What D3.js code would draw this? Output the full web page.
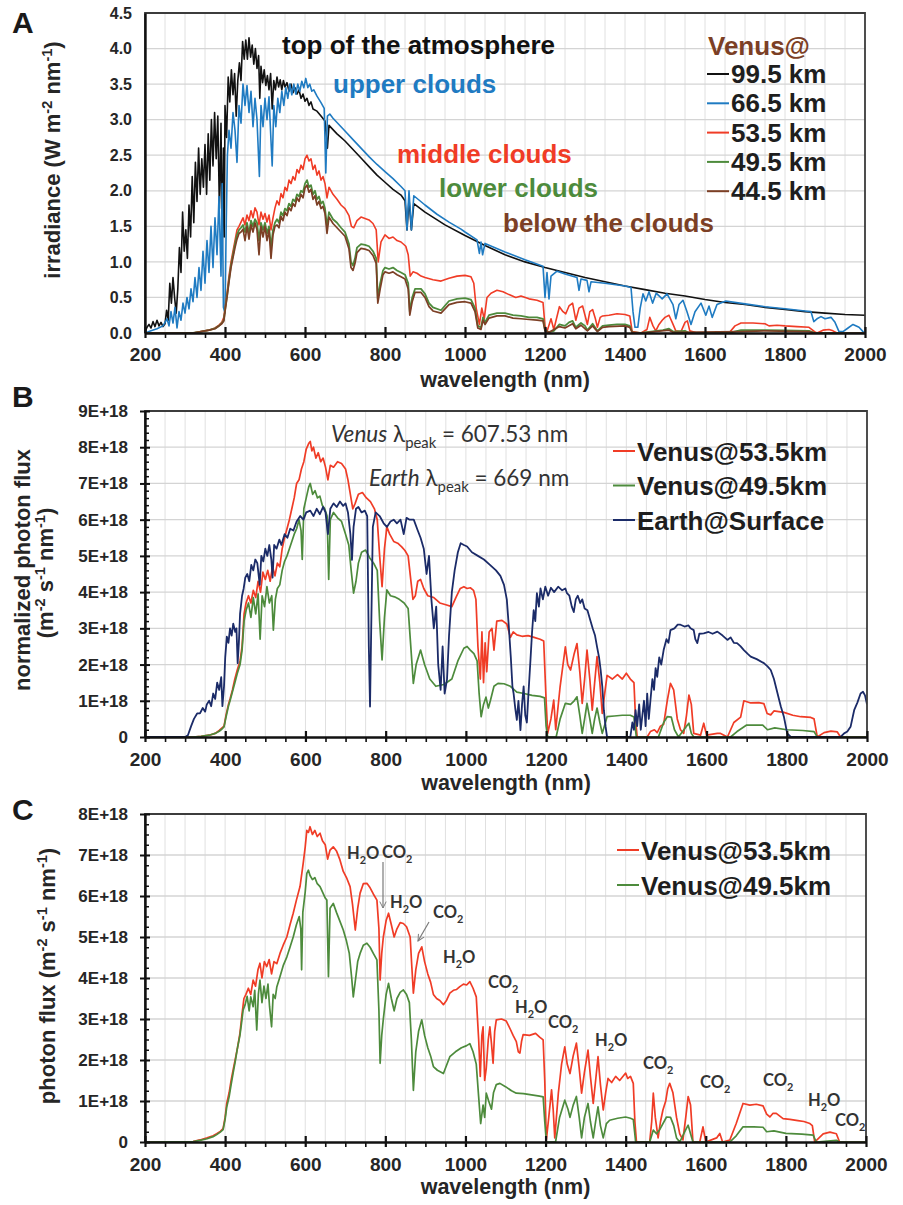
<!DOCTYPE html>
<html><head><meta charset="utf-8">
<script src="https://cdn.jsdelivr.net/npm/d3@7"></script>
<style>body{margin:0;background:#fff}svg{display:block}</style>
</head><body>
<script>
// ---------------- DATA ----------------
const xTicks=[200,400,600,800,1000,1200,1400,1600,1800,2000];
const xMinor=[250,300,350,450,500,550,650,700,750,850,900,950,1050,1100,1150,1250,1300,1350,1450,1500,1550,1650,1700,1750,1850,1900,1950];
const yTicksA=[0,0.5,1,1.5,2,2.5,3,3.5,4,4.5];
const yTicksB=[0,1,2,3,4,5,6,7,8,9];
const yTicksC=[0,1,2,3,4,5,6,7,8];

// Panel A : irradiance (W m-2 nm-1)
const toaA=[[200,0.02],[205,0.08],[210,0.12],[215,0.07],[220,0.16],[225,0.09],[230,0.18],[235,0.1],[240,0.15],[245,0.09],[250,0.13],[254,0.32],[258,0.18],[262,0.7],[266,0.42],[270,0.78],[274,0.5],[278,0.28],[282,0.62],[286,1.2],[290,0.85],[294,1.7],[298,1.15],[302,1.45],[306,1.05],[310,1.8],[314,1.35],[318,2.2],[322,1.55],[326,2.4],[330,1.85],[334,2.6],[338,1.95],[342,2.45],[346,2.05],[350,2.65],[354,1.95],[358,2.8],[362,2.15],[366,3.0],[370,2.35],[374,3.1],[378,2.45],[382,3.05],[386,1.75],[390,2.95],[393,1.15],[396,2.6],[398,1.35],[400,3.2],[404,2.75],[408,3.6],[412,3.25],[416,3.7],[420,3.35],[424,3.65],[428,3.05],[432,3.55],[436,3.8],[440,3.55],[444,4.1],[448,3.85],[452,4.12],[456,3.85],[460,4.15],[464,3.88],[468,4.05],[472,3.78],[476,4.0],[480,3.72],[484,3.9],[487,3.3],[490,3.75],[494,3.52],[498,3.7],[502,3.48],[506,3.62],[510,3.42],[514,3.65],[518,3.15],[522,3.55],[526,3.42],[530,3.6],[534,3.46],[538,3.56],[542,3.42],[546,3.55],[550,3.46],[555,3.52],[560,3.4],[565,3.5],[570,3.38],[575,3.45],[580,3.36],[585,3.42],[590,3.3],[595,3.36],[600,3.26],[605,3.3],[610,3.2],[615,3.25],[620,3.15],[630,3.12],[640,3.05],[650,2.98],[656,2.6],[660,2.92],[670,2.86],[680,2.8],[690,2.75],[700,2.7],[720,2.58],[740,2.46],[760,2.34],[780,2.22],[800,2.12],[820,2.02],[840,1.94],[850,1.86],[855,1.45],[860,1.88],[866,1.45],[872,1.82],[900,1.7],[950,1.52],[1000,1.37],[1050,1.23],[1100,1.1],[1150,1.0],[1200,0.92],[1250,0.85],[1300,0.78],[1350,0.72],[1400,0.66],[1450,0.61],[1500,0.56],[1550,0.52],[1600,0.47],[1650,0.43],[1700,0.4],[1750,0.36],[1800,0.33],[1850,0.3],[1900,0.28],[1950,0.26],[2000,0.25]];
const upperA=[[200,0.0],[215,0.03],[230,0.06],[245,0.1],[255,0.2],[260,0.1],[265,0.3],[270,0.14],[275,0.36],[280,0.07],[285,0.3],[290,0.18],[295,0.42],[300,0.28],[305,0.5],[310,0.34],[315,0.62],[320,0.44],[325,0.78],[330,0.5],[335,0.92],[340,0.6],[345,1.15],[350,0.7],[355,1.3],[360,0.85],[365,1.5],[370,0.92],[375,1.62],[380,1.1],[385,1.92],[390,0.8],[393,2.1],[396,0.36],[400,0.28],[403,1.5],[406,2.5],[410,2.85],[415,2.6],[420,3.1],[425,2.85],[430,2.4],[435,3.2],[440,2.95],[445,3.5],[450,3.2],[455,3.48],[460,3.1],[465,3.4],[470,2.9],[475,3.3],[480,3.0],[486,2.2],[490,3.2],[495,2.9],[500,3.3],[505,3.0],[510,3.32],[515,2.7],[518,2.35],[522,3.2],[527,2.9],[532,3.3],[537,3.1],[542,3.4],[547,3.2],[552,3.45],[557,3.3],[562,3.5],[567,3.35],[572,3.5],[577,3.36],[582,3.5],[587,3.4],[592,3.54],[597,3.45],[602,3.58],[607,3.45],[612,3.5],[617,3.4],[622,3.42],[630,3.33],[640,3.24],[648,3.16],[652,2.25],[656,3.05],[662,3.08],[670,3.02],[680,2.96],[690,2.9],[700,2.84],[720,2.72],[740,2.6],[760,2.48],[780,2.37],[800,2.27],[820,2.17],[840,2.06],[850,2.0],[855,1.45],[860,2.0],[866,1.45],[872,1.93],[900,1.8],[930,1.67],[960,1.56],[990,1.46],[1000,1.42],[1030,1.31],[1036,1.12],[1040,1.28],[1044,1.1],[1050,1.26],[1100,1.14],[1150,1.03],[1195,0.94],[1200,0.5],[1205,0.85],[1210,0.48],[1215,0.8],[1230,0.87],[1250,0.83],[1280,0.78],[1285,0.6],[1290,0.76],[1305,0.74],[1310,0.58],[1315,0.72],[1350,0.7],[1400,0.66],[1415,0.64],[1420,0.3],[1425,0.08],[1432,0.08],[1438,0.35],[1445,0.55],[1452,0.45],[1460,0.58],[1469,0.42],[1478,0.56],[1493,0.48],[1505,0.55],[1520,0.4],[1527,0.2],[1535,0.4],[1545,0.46],[1555,0.3],[1565,0.12],[1575,0.3],[1590,0.42],[1602,0.25],[1610,0.38],[1618,0.22],[1630,0.4],[1652,0.45],[1700,0.41],[1750,0.37],[1800,0.34],[1850,0.31],[1865,0.3],[1872,0.16],[1880,0.2],[1890,0.23],[1900,0.2],[1915,0.22],[1925,0.15],[1935,0.02],[1945,0.02],[1955,0.06],[1970,0.12],[1985,0.08],[1995,0.02],[2000,0.0]];
const middleA=[[200,0],[320,0],[340,0.02],[360,0.04],[375,0.07],[385,0.11],[392,0.15],[397,0.22],[400,0.34],[405,0.55],[410,0.8],[415,1.0],[420,1.15],[425,1.3],[430,1.45],[435,1.5],[440,1.56],[445,1.62],[450,1.52],[455,1.66],[460,1.58],[465,1.72],[470,1.62],[475,1.76],[480,1.7],[485,1.52],[490,1.7],[495,1.6],[500,1.68],[505,1.56],[510,1.66],[515,1.45],[520,1.62],[525,1.76],[530,1.86],[535,1.8],[540,1.96],[545,1.9],[550,2.05],[555,2.0],[560,2.15],[565,2.1],[570,2.2],[575,2.15],[580,2.3],[585,2.25],[590,2.36],[595,2.3],[600,2.45],[605,2.5],[610,2.42],[615,2.45],[620,2.3],[625,2.36],[630,2.22],[635,2.28],[640,2.15],[645,2.2],[650,2.1],[655,1.9],[660,2.05],[670,1.95],[680,1.88],[690,1.8],[700,1.75],[710,1.65],[716,1.5],[722,1.48],[730,1.58],[740,1.63],[750,1.61],[760,1.59],[770,1.54],[778,1.45],[783,1.0],[790,1.28],[800,1.38],[810,1.33],[820,1.35],[830,1.3],[840,1.28],[852,1.22],[858,1.1],[863,0.8],[870,0.86],[880,0.84],[890,0.8],[900,0.78],[920,0.75],[940,0.73],[960,0.77],[980,0.8],[1000,0.81],[1015,0.79],[1022,0.7],[1028,0.35],[1036,0.12],[1042,0.35],[1048,0.2],[1055,0.5],[1065,0.56],[1080,0.6],[1095,0.58],[1110,0.54],[1127,0.5],[1140,0.52],[1160,0.48],[1180,0.46],[1195,0.43],[1200,0.1],[1205,0.02],[1215,0.2],[1222,0.05],[1236,0.37],[1245,0.3],[1252,0.27],[1260,0.38],[1269,0.42],[1277,0.18],[1285,0.35],[1294,0.38],[1300,0.25],[1306,0.12],[1312,0.3],[1319,0.33],[1326,0.2],[1331,0.08],[1338,0.22],[1344,0.24],[1360,0.25],[1380,0.27],[1400,0.26],[1412,0.24],[1418,0.02],[1440,0],[1455,0.05],[1462,0.22],[1470,0.1],[1477,0.03],[1485,0.12],[1493,0.18],[1500,0.22],[1510,0.25],[1518,0.15],[1527,0.03],[1540,0.02],[1550,0.15],[1556,0.17],[1562,0.03],[1580,0],[1660,0],[1675,0.1],[1690,0.14],[1720,0.14],[1750,0.13],[1760,0.1],[1780,0.11],[1800,0.1],[1830,0.09],[1860,0.08],[1874,0.02],[1880,0],[1895,0.04],[1910,0.05],[1920,0.03],[1930,0],[2000,0]];
const lowerA=[[200,0],[320,0],[340,0.02],[360,0.04],[375,0.065],[385,0.1],[392,0.14],[397,0.18],[400,0.32],[405,0.52],[410,0.75],[415,0.95],[420,1.1],[425,1.25],[430,1.38],[435,1.45],[440,1.48],[445,1.52],[450,1.42],[455,1.55],[460,1.4],[465,1.58],[470,1.5],[475,1.6],[480,1.55],[485,1.3],[490,1.55],[495,1.45],[500,1.55],[505,1.4],[510,1.5],[515,1.2],[520,1.45],[525,1.55],[530,1.6],[535,1.55],[540,1.7],[545,1.65],[550,1.75],[555,1.72],[560,1.82],[565,1.78],[570,1.88],[575,1.85],[580,1.95],[585,1.92],[590,2.0],[595,1.98],[600,2.1],[605,2.15],[610,2.05],[615,2.08],[620,1.95],[625,2.0],[630,1.88],[635,1.92],[640,1.82],[645,1.85],[650,1.75],[655,1.5],[660,1.7],[670,1.6],[680,1.55],[690,1.48],[700,1.42],[710,1.25],[715,1.0],[720,0.95],[725,1.05],[730,1.2],[740,1.25],[750,1.24],[760,1.22],[770,1.15],[778,1.05],[782,0.48],[788,0.7],[795,0.88],[800,0.92],[810,0.9],[820,0.92],[830,0.88],[840,0.85],[850,0.82],[858,0.7],[862,0.3],[868,0.5],[875,0.62],[890,0.62],[900,0.55],[910,0.42],[920,0.36],[940,0.32],[960,0.45],[980,0.48],[1000,0.49],[1015,0.47],[1025,0.35],[1032,0.1],[1040,0.08],[1045,0.22],[1050,0.15],[1060,0.25],[1080,0.28],[1100,0.28],[1120,0.25],[1140,0.24],[1160,0.22],[1180,0.22],[1195,0.2],[1200,0.04],[1210,0.01],[1222,0.03],[1236,0.12],[1250,0.1],[1260,0.15],[1269,0.17],[1277,0.08],[1290,0.14],[1300,0.1],[1306,0.04],[1319,0.13],[1331,0.03],[1344,0.1],[1360,0.11],[1380,0.12],[1400,0.12],[1412,0.1],[1418,0.01],[1440,0],[1495,0.04],[1510,0.06],[1520,0.02],[1550,0.03],[1560,0],[1660,0],[1690,0.04],[1750,0.04],[1800,0.035],[1860,0.03],[1875,0],[2000,0]];
const belowA=[[200,0],[320,0],[340,0.02],[360,0.04],[375,0.06],[385,0.1],[392,0.13],[397,0.17],[400,0.3],[405,0.5],[410,0.72],[415,0.92],[420,1.06],[425,1.2],[430,1.32],[435,1.4],[440,1.42],[445,1.46],[450,1.3],[455,1.5],[460,1.32],[465,1.52],[470,1.42],[475,1.55],[480,1.45],[485,1.1],[490,1.5],[495,1.35],[500,1.5],[505,1.3],[510,1.45],[515,1.05],[520,1.38],[525,1.5],[530,1.52],[535,1.48],[540,1.64],[545,1.58],[550,1.7],[555,1.65],[560,1.76],[565,1.72],[570,1.82],[575,1.78],[580,1.9],[585,1.85],[590,1.95],[595,1.9],[600,2.04],[605,2.08],[610,1.98],[615,2.02],[620,1.88],[625,1.93],[630,1.8],[635,1.85],[640,1.75],[645,1.78],[650,1.68],[655,1.4],[660,1.63],[670,1.54],[680,1.48],[690,1.42],[700,1.36],[710,1.18],[715,0.92],[720,0.88],[725,0.98],[730,1.13],[740,1.19],[750,1.18],[760,1.16],[770,1.09],[778,0.98],[782,0.42],[788,0.62],[795,0.82],[800,0.86],[810,0.84],[820,0.86],[830,0.82],[840,0.79],[850,0.76],[858,0.62],[862,0.25],[868,0.44],[875,0.57],[890,0.57],[900,0.5],[910,0.37],[920,0.31],[940,0.28],[960,0.4],[980,0.43],[1000,0.44],[1015,0.42],[1025,0.3],[1032,0.07],[1040,0.05],[1045,0.18],[1050,0.12],[1060,0.21],[1080,0.24],[1100,0.24],[1120,0.21],[1140,0.2],[1160,0.19],[1180,0.18],[1195,0.17],[1200,0.03],[1210,0.01],[1236,0.09],[1250,0.07],[1269,0.13],[1277,0.06],[1290,0.11],[1306,0.03],[1319,0.1],[1331,0.02],[1344,0.08],[1360,0.09],[1400,0.1],[1412,0.08],[1418,0.01],[1440,0],[1510,0.04],[1520,0.01],[1690,0.02],[1750,0.03],[1860,0.02],[1875,0],[2000,0]];

// Panel B : normalized photon flux (units of 1E+18 m-2 s-1 nm-1)
const venus535B=[[200,0],[320,0],[340,0.02],[360,0.05],[375,0.1],[385,0.18],[392,0.25],[397,0.3],[402,0.6],[408,0.9],[412,1.05],[418,1.3],[424,1.6],[430,1.85],[437,2.1],[442,2.5],[447,3.4],[452,3.7],[458,3.9],[464,3.7],[470,4.05],[476,3.85],[482,4.3],[488,4.0],[494,4.55],[500,4.35],[506,4.6],[512,4.3],[518,4.7],[524,4.45],[530,4.8],[536,4.7],[542,5.2],[548,5.5],[554,5.75],[560,6.0],[566,6.3],[572,6.6],[578,7.0],[584,7.1],[590,7.4],[596,7.6],[602,7.95],[608,8.1],[612,8.16],[616,7.9],[620,8.0],[626,7.7],[632,7.85],[638,7.6],[644,7.7],[650,7.45],[656,7.1],[662,7.5],[670,7.45],[680,7.6],[690,7.55],[700,7.4],[706,7.1],[712,6.7],[718,6.3],[724,6.45],[732,6.7],[742,6.75],[752,6.6],[762,6.5],[772,6.3],[779,6.0],[785,5.0],[791,4.15],[797,5.2],[803,5.8],[810,5.6],[820,5.4],[830,5.35],[840,5.25],[848,5.15],[856,5.0],[862,4.4],[868,3.8],[874,3.9],[880,4.3],[887,4.35],[895,4.1],[905,3.9],[920,3.85],[935,3.7],[950,3.65],[965,3.6],[975,3.85],[986,4.1],[995,4.15],[1003,4.1],[1011,4.12],[1019,4.05],[1025,3.8],[1030,2.5],[1036,1.6],[1040,2.9],[1044,1.5],[1048,2.6],[1052,1.8],[1058,2.9],[1065,3.0],[1070,2.4],[1077,3.2],[1090,3.22],[1102,3.12],[1111,2.75],[1118,2.9],[1127,2.82],[1140,2.78],[1155,2.8],[1170,2.75],[1185,2.7],[1194,2.65],[1200,1.0],[1204,0.1],[1212,0.5],[1219,1.02],[1224,0.2],[1235,1.4],[1248,2.49],[1254,2.0],[1261,1.85],[1270,2.3],[1277,2.58],[1284,1.8],[1290,0.93],[1296,1.6],[1302,2.4],[1309,1.6],[1315,0.74],[1321,1.5],[1327,2.22],[1334,1.5],[1340,0.65],[1346,1.2],[1352,1.7],[1365,1.6],[1378,1.72],[1390,1.6],[1400,1.76],[1410,1.6],[1419,1.5],[1423,0.5],[1427,0],[1452,0],[1460,0.15],[1470,0.2],[1477,0.12],[1485,0.3],[1493,0.35],[1502,1.0],[1510,1.48],[1518,1.3],[1527,0.5],[1535,0.2],[1543,0.1],[1550,0.6],[1556,1.16],[1562,0.9],[1568,0.1],[1585,0.05],[1593,0.38],[1600,0.05],[1627,0.1],[1635,0.1],[1652,0],[1668,0.4],[1685,0.55],[1693,1.0],[1710,0.94],[1730,0.95],[1743,0.92],[1751,0.65],[1760,0.61],[1768,0.72],[1780,0.7],[1793,0.68],[1815,0.6],[1835,0.56],[1860,0.54],[1868,0.5],[1876,0],[1893,0.12],[1910,0.16],[1926,0.14],[1934,0],[2000,0]];
const venus495B=[[200,0],[320,0],[340,0.02],[360,0.05],[375,0.1],[385,0.16],[392,0.22],[397,0.28],[402,0.55],[408,0.85],[412,1.0],[418,1.25],[424,1.5],[430,1.75],[437,2.0],[442,2.4],[447,3.2],[452,3.5],[458,3.7],[464,3.3],[470,3.85],[476,3.4],[482,3.95],[487,2.7],[492,3.9],[498,3.6],[504,4.15],[510,3.7],[516,3.9],[520,2.95],[525,3.8],[530,4.1],[536,4.2],[542,4.6],[548,4.85],[554,5.0],[560,5.2],[566,5.4],[572,5.6],[578,5.75],[584,6.0],[589,5.7],[592,4.9],[596,6.3],[602,6.6],[608,6.9],[612,7.0],[618,6.7],[624,6.8],[630,6.6],[636,6.65],[642,6.4],[648,6.3],[654,6.1],[658,4.35],[662,6.0],[670,6.2],[680,6.05],[690,5.95],[700,5.6],[708,5.3],[714,4.6],[720,3.97],[726,4.3],[732,4.8],[740,5.1],[750,5.16],[760,4.95],[770,4.8],[779,4.6],[785,3.2],[791,2.13],[797,3.3],[803,4.06],[812,3.9],[822,3.87],[834,3.8],[846,3.7],[856,3.55],[862,2.6],[869,1.48],[876,2.0],[887,2.4],[897,2.0],[910,1.6],[925,1.4],[945,1.45],[965,1.6],[980,2.1],[995,2.45],[1003,2.5],[1011,2.4],[1020,2.3],[1028,2.1],[1033,1.2],[1038,0.56],[1044,0.9],[1050,1.1],[1056,0.8],[1061,1.0],[1070,1.4],[1080,1.48],[1095,1.47],[1111,1.4],[1127,1.24],[1145,1.2],[1165,1.15],[1185,1.12],[1196,1.08],[1200,0.3],[1204,0],[1225,0],[1235,0.5],[1248,0.93],[1261,0.9],[1270,1.0],[1277,1.11],[1284,0.6],[1290,0.1],[1296,0.5],[1302,0.93],[1309,0.5],[1315,0.1],[1321,0.5],[1327,0.8],[1334,0.4],[1340,0.1],[1352,0.56],[1370,0.58],[1390,0.6],[1410,0.6],[1419,0.55],[1425,0],[1480,0],[1493,0.4],[1502,0.56],[1512,0.55],[1520,0.2],[1530,0],[1550,0.3],[1556,0.38],[1562,0.1],[1568,0],[1660,0],[1676,0.15],[1700,0.33],[1740,0.33],[1752,0.2],[1770,0.25],[1800,0.2],[1840,0.18],[1868,0.15],[1876,0],[2000,0]];
const earthB=[[200,0],[300,0],[307,0.05],[315,0.3],[322,0.5],[330,0.65],[337,0.65],[344,0.8],[350,0.7],[354,0.9],[360,1.0],[365,0.85],[370,1.2],[375,1.05],[380,1.5],[385,1.3],[390,1.65],[393,0.85],[397,1.4],[400,2.2],[404,2.77],[408,2.6],[412,3.0],[416,2.8],[420,3.13],[425,2.9],[428,3.0],[431,2.04],[434,2.6],[437,3.4],[442,3.9],[446,4.1],[450,4.4],[455,4.5],[460,4.3],[465,4.75],[470,4.6],[475,4.9],[480,4.8],[486,4.2],[490,5.0],[495,4.85],[500,5.2],[505,5.0],[510,5.3],[515,4.9],[518,4.4],[522,5.3],[528,5.2],[535,5.45],[540,5.3],[548,5.6],[555,5.5],[562,5.75],[570,5.7],[578,5.95],[587,6.1],[595,6.0],[602,6.2],[612,6.25],[620,6.1],[628,6.3],[636,6.15],[644,6.35],[650,6.2],[656,5.6],[662,6.3],[670,6.45],[678,6.35],[686,6.5],[694,6.38],[700,6.45],[706,6.2],[712,5.6],[716,4.89],[720,5.8],[726,6.3],[732,6.35],[740,6.2],[748,6.25],[754,6.1],[758,2.5],[761,0.84],[764,3.0],[768,5.8],[775,6.2],[785,6.1],[795,5.9],[803,5.8],[812,5.95],[820,6.0],[828,5.9],[837,6.0],[845,5.6],[852,6.05],[860,6.0],[870,6.0],[880,5.7],[887,5.5],[895,5.2],[902,4.5],[908,5.0],[914,3.8],[920,3.0],[926,3.6],[931,2.0],[937,1.3],[942,2.5],[947,1.2],[953,1.6],[958,2.8],[965,4.0],[972,4.6],[980,5.1],[987,5.35],[995,5.3],[1003,5.26],[1015,5.1],[1030,5.0],[1045,4.9],[1060,4.75],[1075,4.6],[1086,4.45],[1095,4.2],[1102,3.8],[1107,3.05],[1112,2.2],[1116,1.4],[1119,1.2],[1123,0.8],[1127,0.47],[1131,1.0],[1136,0.19],[1140,0.9],[1144,1.4],[1148,0.6],[1152,0.4],[1156,1.2],[1161,2.13],[1165,2.9],[1169,3.5],[1173,3.2],[1177,3.97],[1182,3.6],[1186,4.1],[1192,3.8],[1198,4.15],[1205,3.9],[1212,4.12],[1220,4.0],[1230,4.15],[1240,4.05],[1248,4.1],[1252,3.97],[1258,3.9],[1264,3.6],[1269,3.45],[1274,3.8],[1279,3.9],[1285,3.7],[1290,3.8],[1296,3.55],[1303,3.5],[1310,3.23],[1316,3.0],[1322,2.8],[1327,2.49],[1332,2.2],[1336,1.85],[1340,1.4],[1344,0.74],[1348,0.3],[1352,0],[1410,0],[1415,0.4],[1419,0.2],[1423,0.74],[1427,0.3],[1432,0.9],[1436,0.2],[1440,0.6],[1444,1.0],[1448,0.3],[1452,1.2],[1456,0.5],[1460,1.0],[1465,1.6],[1469,1.3],[1473,1.9],[1477,1.66],[1482,2.2],[1487,2.0],[1493,2.4],[1500,2.7],[1505,2.6],[1510,2.95],[1520,3.0],[1528,3.1],[1535,3.1],[1545,3.05],[1555,3.08],[1560,3.0],[1568,2.95],[1572,2.7],[1577,2.59],[1582,2.85],[1593,2.86],[1605,2.9],[1615,2.85],[1627,2.91],[1640,2.8],[1652,2.68],[1660,2.75],[1668,2.6],[1676,2.59],[1685,2.5],[1693,2.4],[1702,2.3],[1710,2.22],[1725,2.15],[1743,2.04],[1752,1.95],[1760,1.85],[1768,1.6],[1777,1.2],[1785,0.85],[1793,0.55],[1801,0.1],[1810,0],[1934,0],[1943,0.1],[1951,0.15],[1959,0.28],[1968,0.74],[1976,0.95],[1984,1.2],[1990,1.25],[1995,1.15],[2000,0.9]];

// Panel C : photon flux (units of 1E+18 m-2 s-1 nm-1)
const venus535C=[[200,0],[320,0.01],[337,0.05],[355,0.1],[370,0.15],[379,0.2],[388,0.26],[395,0.33],[400,0.6],[404,0.94],[410,1.2],[415,1.5],[420,1.76],[425,2.0],[431,2.3],[437,2.65],[442,3.1],[447,3.5],[452,3.6],[458,3.75],[464,3.6],[470,3.95],[476,3.8],[482,4.2],[487,4.36],[492,4.0],[498,4.4],[504,4.28],[510,4.45],[516,4.1],[522,4.4],[529,4.35],[537,4.6],[545,4.8],[554,5.0],[562,5.3],[570,5.58],[578,5.9],[587,6.23],[595,6.8],[600,7.2],[604,7.6],[608,7.55],[612,7.69],[618,7.5],[624,7.6],[630,7.45],[637,7.53],[643,7.35],[650,7.25],[656,6.9],[662,7.12],[670,7.2],[678,7.1],[686,6.9],[695,6.6],[703,6.45],[712,6.23],[718,5.8],[725,5.17],[731,5.7],[737,6.07],[745,6.3],[754,6.31],[762,6.2],[770,6.05],[779,5.9],[784,5.2],[787,3.95],[791,4.6],[795,5.0],[802,5.4],[808,5.58],[815,5.3],[822,5.0],[829,5.2],[837,5.35],[845,5.33],[853,5.25],[862,5.0],[866,4.3],[870,3.63],[876,4.2],[883,4.6],[891,4.76],[898,4.4],[906,4.1],[913,3.9],[920,3.6],[928,3.5],[936,3.45],[945,3.35],[953,3.46],[961,3.63],[970,3.7],[978,3.72],[986,3.79],[995,3.85],[1003,3.83],[1011,3.91],[1019,3.75],[1027,3.54],[1033,2.5],[1037,1.6],[1041,2.6],[1044,2.81],[1048,1.5],[1052,1.8],[1057,2.5],[1061,2.81],[1065,2.4],[1069,1.92],[1073,2.7],[1077,2.98],[1090,3.0],[1102,2.95],[1112,2.75],[1119,2.6],[1127,2.45],[1132,2.2],[1136,2.17],[1140,2.45],[1144,2.62],[1160,2.6],[1175,2.65],[1186,2.55],[1194,2.49],[1198,1.5],[1202,0.05],[1208,0.6],[1215,1.27],[1219,0.8],[1223,0.1],[1232,1.2],[1240,1.9],[1248,2.32],[1254,1.9],[1261,1.67],[1269,2.1],[1277,2.41],[1284,1.8],[1290,1.19],[1297,1.7],[1306,2.24],[1312,1.6],[1319,0.94],[1325,1.5],[1331,2.08],[1337,1.4],[1344,0.78],[1350,1.2],[1356,1.55],[1365,1.45],[1375,1.6],[1385,1.5],[1395,1.62],[1400,1.68],[1405,1.55],[1412,1.6],[1419,1.43],[1423,0.5],[1427,0],[1460,0],[1465,0.5],[1469,1.19],[1474,0.6],[1481,0.1],[1487,0.5],[1493,0.78],[1500,1.0],[1505,1.3],[1510,1.43],[1518,1.2],[1527,0.6],[1535,0.2],[1543,0.05],[1550,0.6],[1556,1.11],[1562,0.9],[1568,0],[1585,0],[1593,0.37],[1600,0],[1627,0.1],[1635,0.21],[1642,0],[1660,0.05],[1676,0.45],[1693,0.94],[1710,0.9],[1726,0.92],[1743,0.88],[1752,0.68],[1760,0.61],[1768,0.7],[1776,0.7],[1793,0.57],[1810,0.55],[1830,0.52],[1845,0.5],[1860,0.45],[1866,0.4],[1872,0],[1893,0.2],[1910,0.24],[1926,0.2],[1934,0],[2000,0]];
const venus495C=[[200,0],[320,0.01],[337,0.04],[355,0.08],[370,0.13],[379,0.18],[388,0.24],[395,0.3],[400,0.55],[404,0.85],[410,1.1],[415,1.4],[420,1.68],[425,1.95],[431,2.3],[437,2.6],[441,2.9],[445,3.22],[450,3.35],[455,3.55],[460,3.2],[464,3.54],[470,3.3],[474,3.7],[479,2.73],[483,3.6],[487,3.95],[492,3.4],[497,3.8],[502,3.5],[507,3.85],[511,3.3],[516,2.81],[520,3.6],[525,3.5],[529,3.78],[536,4.0],[545,4.3],[554,4.51],[562,4.75],[570,5.0],[578,5.3],[585,5.5],[589,5.2],[591,4.2],[594,5.6],[600,6.1],[604,6.55],[608,6.63],[612,6.5],[618,6.4],[624,6.45],[630,6.3],[637,6.23],[643,6.1],[650,5.95],[654,5.9],[658,4.03],[662,5.7],[670,5.82],[678,5.6],[686,5.4],[695,5.17],[703,4.9],[710,4.6],[716,4.0],[720,3.54],[726,4.0],[731,4.4],[737,4.6],[745,4.8],[754,4.85],[762,4.75],[770,4.6],[779,4.44],[784,3.2],[787,1.92],[791,2.6],[795,3.0],[802,3.6],[808,3.87],[815,3.5],[822,3.2],[829,3.5],[837,3.65],[845,3.71],[853,3.6],[860,3.4],[865,2.5],[870,1.26],[876,2.2],[883,2.7],[891,2.98],[898,2.6],[906,2.3],[913,2.1],[920,1.84],[930,1.75],[945,1.67],[961,2.08],[975,2.2],[990,2.3],[1003,2.35],[1011,2.4],[1019,2.2],[1027,1.9],[1033,1.1],[1038,0.45],[1044,0.9],[1048,0.6],[1052,1.19],[1058,1.0],[1065,0.8],[1070,1.2],[1077,1.4],[1086,1.43],[1100,1.35],[1115,1.25],[1127,1.19],[1145,1.18],[1165,1.15],[1185,1.12],[1194,1.1],[1198,0.5],[1202,0],[1225,0],[1235,0.6],[1248,1.02],[1256,0.8],[1261,0.6],[1269,0.9],[1277,1.11],[1284,0.6],[1290,0.1],[1297,0.6],[1306,0.94],[1312,0.5],[1319,0.1],[1325,0.5],[1331,0.86],[1337,0.4],[1344,0.1],[1352,0.45],[1360,0.53],[1380,0.58],[1400,0.61],[1412,0.58],[1419,0.55],[1425,0],[1460,0],[1469,0.29],[1477,0.2],[1485,0.3],[1502,0.61],[1512,0.6],[1520,0.4],[1527,0.1],[1535,0],[1550,0.3],[1556,0.41],[1562,0.2],[1568,0],[1660,0],[1676,0.15],[1693,0.37],[1720,0.37],[1743,0.36],[1752,0.25],[1770,0.27],[1800,0.21],[1840,0.19],[1868,0.17],[1876,0],[1926,0.04],[1934,0],[2000,0]];

const legendA=["99.5 km","66.5 km","53.5 km","49.5 km","44.5 km"];
const regionLabelsA=["top of the atmosphere","upper clouds","middle clouds","lower clouds","below the clouds"];
const legendB=["Venus@53.5km","Venus@49.5km","Earth@Surface"];
const legendC=["Venus@53.5km","Venus@49.5km"];
const bandLabelsC=["H2O","CO2","H2O","CO2","H2O","CO2","H2O","CO2","H2O","CO2","CO2","CO2","H2O","CO2"];

// ---------------- STYLE ----------------
const COL={black:"#111111",blue:"#1f7bc2",red:"#f03c26",green:"#4d8b3c",brown:"#7c3f25",navy:"#1b2b68"};
const SANS="'Liberation Sans',Arial,Helvetica,sans-serif";
const HUM="Lato,'Noto Sans','Open Sans',sans-serif";

const svg=d3.select("body").append("svg").attr("width",903).attr("height",1205).style("font-family",SANS);
const defs=svg.append("defs");
defs.append("marker").attr("id","arr").attr("viewBox","0 0 10 10").attr("refX",9).attr("refY",5)
  .attr("markerWidth",8).attr("markerHeight",8).attr("orient","auto-start-reverse").attr("markerUnits","userSpaceOnUse")
  .append("path").attr("d","M1,1L9,5L1,9").attr("fill","none").attr("stroke","#7a7a7a").attr("stroke-width",1.2);

function rich(sel,parts,fs){
  let shift=0;
  parts.forEach(p=>{
    const target=p.sup?-0.38*fs:(p.sub?0.28*fs:0);
    const ts=sel.append("tspan").text(p.t);
    if(target-shift!==0) ts.attr("dy",target-shift);
    if(p.sup||p.sub) ts.attr("font-size",fs*0.66);
    if(p.it) ts.attr("font-style","italic");
    shift=target;
  });
}

function panel(o){
  const x=d3.scaleLinear().domain([200,2000]).range([o.l,o.r]);
  const y=d3.scaleLinear().domain([0,o.yMax]).range([o.b,o.t]);
  const g=svg.append("g");
  g.append("g").selectAll("line").data(xMinor.concat(xTicks.slice(1,-1))).join("line")
    .attr("x1",d=>x(d)).attr("x2",d=>x(d)).attr("y1",o.t).attr("y2",o.b).attr("stroke","#e0e0e0").attr("stroke-width",1);
  g.append("g").selectAll("line").data(o.yTicks.slice(1,-1)).join("line")
    .attr("x1",o.l).attr("x2",o.r).attr("y1",d=>y(d)).attr("y2",d=>y(d)).attr("stroke","#d4d4d4").attr("stroke-width",1.3);
  defs.append("clipPath").attr("id","clip"+o.name).append("rect").attr("x",o.l).attr("y",o.t).attr("width",o.r-o.l).attr("height",o.b-o.t);
  const line=d3.line().x(d=>x(d[0])).y(d=>y(d[1]));
  const lg=g.append("g").attr("clip-path",`url(#clip${o.name})`);
  o.series.forEach(s=>lg.append("path").datum(s.data).attr("d",line).attr("fill","none")
    .attr("stroke",s.color).attr("stroke-width",s.w||1.7).attr("stroke-linejoin","round"));
  g.append("path").attr("d",`M${o.l},${o.b}V${o.t}H${o.r}V${o.b}`).attr("fill","none").attr("stroke","#3c3c3c").attr("stroke-width",1.8);
  const ax=g.append("g").attr("transform",`translate(0,${o.b})`);
  ax.call(d3.axisBottom(x).tickValues(xTicks).tickSizeInner(5).tickSizeOuter(0).tickPadding(o.xPad).tickFormat(d3.format("d")));
  ax.select(".domain").attr("stroke","#111").attr("stroke-width",2.4);
  ax.selectAll(".tick line").attr("stroke","#111").attr("stroke-width",2.2);
  ax.selectAll(".tick text").attr("font-size",19).attr("font-weight","bold").attr("fill","#262626").attr("font-family",SANS);
  const ax2=g.append("g").attr("transform",`translate(0,${o.b})`)
    .call(d3.axisBottom(x).tickValues(xTicks).tickSizeInner(-6).tickSizeOuter(0).tickFormat(""));
  ax2.select(".domain").remove(); ax2.selectAll("line").attr("stroke","#111").attr("stroke-width",2.2);
  const ax3=g.append("g").attr("transform",`translate(0,${o.b})`)
    .call(d3.axisBottom(x).tickValues(xMinor).tickSizeInner(5).tickSizeOuter(0).tickFormat(""));
  ax3.select(".domain").remove(); ax3.selectAll("line").attr("stroke","#111").attr("stroke-width",1.6);
  const ay=g.append("g").attr("transform",`translate(${o.l},0)`);
  ay.call(d3.axisLeft(y).tickValues(o.yTicks).tickSizeInner(o.yMajOut).tickSizeOuter(0).tickPadding(o.yPad).tickFormat(o.yFmt));
  ay.select(".domain").attr("stroke","#111").attr("stroke-width",2.4);
  ay.selectAll(".tick line").attr("stroke","#111").attr("stroke-width",2);
  ay.selectAll(".tick text").attr("font-size",o.yFs).attr("font-weight","bold").attr("fill","#262626").attr("font-family",SANS);
  if(o.yMinor){
    const ay2=g.append("g").attr("transform",`translate(${o.l},0)`)
      .call(d3.axisLeft(y).tickValues(o.yMinor).tickSizeInner(-4).tickSizeOuter(0).tickFormat(""));
    ay2.select(".domain").remove(); ay2.selectAll("line").attr("stroke","#111").attr("stroke-width",1.5);
    const ay3=g.append("g").attr("transform",`translate(${o.l},0)`)
      .call(d3.axisLeft(y).tickValues(o.yTicks).tickSizeInner(-5).tickSizeOuter(0).tickFormat(""));
    ay3.select(".domain").remove(); ay3.selectAll("line").attr("stroke","#111").attr("stroke-width",2);
  }
  g.append("text").attr("x",(o.l+o.r)/2).attr("y",o.xTitleY).attr("text-anchor","middle")
    .attr("font-size",21.5).attr("font-weight","bold").attr("fill","#262626").text("wavelength (nm)");
  g.append("text").attr("x",12).attr("y",o.labY).attr("font-size",30).attr("font-weight","bold").attr("fill","#1a1a1a").text(o.name);
  o.yTitles.forEach(t=>{
    const tx=g.append("text").attr("transform",`translate(${t.x},${t.y}) rotate(-90)`).attr("text-anchor","middle")
      .attr("font-size",22).attr("font-weight","bold").attr("fill","#262626");
    rich(tx,t.parts,22);
  });
  return {x,y,g};
}

const yMinorB=[];yTicksB.slice(0,-1).forEach(v=>[0.2,0.4,0.6,0.8].forEach(f=>yMinorB.push(+(v+f).toFixed(1))));
const yMinorC=[];yTicksC.slice(0,-1).forEach(v=>[0.25,0.5,0.75].forEach(f=>yMinorC.push(v+f)));

// ---------------- PANEL A ----------------
const A=panel({name:"A",l:145,r:865,t:13,b:333,yMax:4.5,yTicks:yTicksA,yFmt:d3.format(".1f"),yFs:16,yPad:13,yMajOut:0,
  xPad:10,xTitleY:387,labY:33,
  yTitles:[{x:60,y:160,parts:[{t:"irradiance (W m"},{t:"-2",sup:1},{t:" nm"},{t:"-1",sup:1},{t:")"}]}],
  series:[{data:toaA,color:COL.black,w:1.6},{data:upperA,color:COL.blue,w:1.6},{data:middleA,color:COL.red,w:1.6},{data:lowerA,color:COL.green,w:1.8},{data:belowA,color:COL.brown,w:1.7}]});
const regionPos=[{x:282,y:54,c:COL.black},{x:333,y:93,c:COL.blue},{x:397,y:163,c:COL.red},{x:598,y:197,c:COL.green,end:1},{x:503,y:232,c:COL.brown}];
regionLabelsA.forEach((t,i)=>{const p=regionPos[i];
  A.g.append("text").attr("x",p.x).attr("y",p.y).attr("text-anchor",p.end?"end":"start").attr("font-size",26).attr("font-weight","bold").attr("fill",p.c).text(t);});
A.g.append("text").attr("x",708).attr("y",55).attr("font-size",26).attr("font-weight","bold").attr("fill",COL.brown).text("Venus@");
const legColA=[COL.black,COL.blue,COL.red,COL.green,COL.brown];
legendA.forEach((t,i)=>{const yb=83+i*29.3;
  A.g.append("line").attr("x1",707).attr("x2",729).attr("y1",yb-9).attr("y2",yb-9).attr("stroke",legColA[i]).attr("stroke-width",2);
  A.g.append("text").attr("x",731).attr("y",yb).attr("font-size",26).attr("font-weight","bold").attr("fill","#1e1e1e").text(t);});

// ---------------- PANEL B ----------------
const fmtE=d=>d===0?"0":d+"E+18";
const B=panel({name:"B",l:145,r:867,t:411,b:737,yMax:9,yTicks:yTicksB,yMinor:yMinorB,yFmt:fmtE,yFs:17,yPad:12,yMajOut:5,
  xPad:11,xTitleY:790,labY:407,
  yTitles:[{x:30,y:570,parts:[{t:"normalized photon flux"}]},{x:53,y:573,parts:[{t:"(m"},{t:"-2",sup:1},{t:" s"},{t:"-1",sup:1},{t:" nm"},{t:"-1",sup:1},{t:")"}]}],
  series:[{data:venus535B,color:COL.red},{data:venus495B,color:COL.green},{data:earthB,color:COL.navy,w:1.8}]});
const tB1=B.g.append("text").attr("x",331).attr("y",442).attr("font-family",HUM).attr("font-size",22.5).attr("fill","#333");
rich(tB1,[{t:"Venus",it:1},{t:" λ"},{t:"peak",sub:1},{t:" = 607.53 nm"}],22.5);
const tB2=B.g.append("text").attr("x",369).attr("y",486).attr("font-family",HUM).attr("font-size",22.5).attr("fill","#333");
rich(tB2,[{t:"Earth",it:1},{t:" λ"},{t:"peak",sub:1},{t:" = 669 nm"}],22.5);
const legColB=[COL.red,COL.green,COL.navy];
legendB.forEach((t,i)=>{const yc=451+i*34.5;
  B.g.append("line").attr("x1",613).attr("x2",635).attr("y1",yc).attr("y2",yc).attr("stroke",legColB[i]).attr("stroke-width",2);
  B.g.append("text").attr("x",637).attr("y",yc+9.5).attr("font-size",26).attr("font-weight","bold").attr("fill","#1e1e1e").text(t);});

// ---------------- PANEL C ----------------
const C=panel({name:"C",l:145,r:866,t:814,b:1142,yMax:8,yTicks:yTicksC,yMinor:yMinorC,yFmt:fmtE,yFs:17,yPad:12,yMajOut:5,
  xPad:11,xTitleY:1194,labY:820,
  yTitles:[{x:55,y:976,parts:[{t:"photon flux (m"},{t:"-2",sup:1},{t:" s"},{t:"-1",sup:1},{t:" nm"},{t:"-1",sup:1},{t:")"}]}],
  series:[{data:venus535C,color:COL.red},{data:venus495C,color:COL.green}]});
const legColC=[COL.red,COL.green];
legendC.forEach((t,i)=>{const yc=850+i*35;
  C.g.append("line").attr("x1",617).attr("x2",639).attr("y1",yc).attr("y2",yc).attr("stroke",legColC[i]).attr("stroke-width",2);
  C.g.append("text").attr("x",641).attr("y",yc+9.5).attr("font-size",26).attr("font-weight","bold").attr("fill","#1e1e1e").text(t);});
const bandPos=[[347,853],[382,852],[390,902],[433,912],[443,957],[488,982],[515,1007],[548,1022],[595,1040],[643,1063],[700,1082],[763,1080],[808,1100],[835,1120]];
bandLabelsC.forEach((t,i)=>{const p=bandPos[i];
  const tx=C.g.append("text").attr("x",p[0]).attr("y",p[1]+6).attr("font-family",HUM).attr("font-weight","bold").attr("font-size",16.5).attr("fill","#333");
  const isH=t[0]==="H";
  rich(tx,isH?[{t:"H"},{t:"2",sub:1},{t:"O"}]:[{t:"CO"},{t:"2",sub:1}],16.5);});
C.g.append("line").attr("x1",383).attr("y1",862).attr("x2",383).attr("y2",908).attr("stroke","#7a7a7a").attr("stroke-width",1.2).attr("marker-end","url(#arr)");
C.g.append("line").attr("x1",429).attr("y1",922).attr("x2",418).attr("y2",941).attr("stroke","#7a7a7a").attr("stroke-width",1.2).attr("marker-end","url(#arr)");
</script>
</body></html>
